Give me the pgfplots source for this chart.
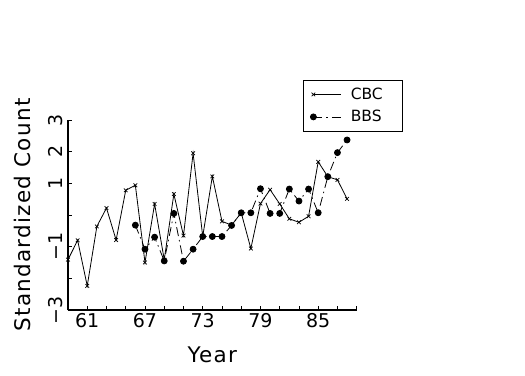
\documentclass[border=0pt]{standalone}
\usepackage{fontspec}
\setmainfont{DejaVu Sans}
\newfontfamily\widefont{DejaVu Sans}[LetterSpace=6]
\usepackage{pgfplots}
\pgfplotsset{compat=1.18}
\pgfplotstableread{
year val
59 -1.41
60 -0.80
61 -2.24
62 -0.36
63 0.22
64 -0.79
65 0.78
66 0.94
67 -1.50
68 0.35
69 -1.41
70 0.66
71 -0.65
72 1.95
73 -0.68
74 1.22
75 -0.20
76 -0.32
77 0.07
78 -1.06
79 0.36
80 0.80
81 0.35
82 -0.12
83 -0.23
84 -0.04
85 1.68
86 1.21
87 1.11
88 0.51
}\cbc
\pgfplotstableread{
year val
66 -0.32
67 -1.08
68 -0.70
69 -1.45
70 0.05
71 -1.46
72 -1.08
73 -0.68
74 -0.68
75 -0.68
76 -0.33
77 0.07
78 0.07
79 0.83
80 0.05
81 0.05
82 0.82
83 0.44
84 0.82
85 0.07
86 1.21
87 1.97
88 2.37
}\bbs
\begin{document}
\begin{tikzpicture}[x=1pt,y=1pt]
\useasboundingbox (0,0) rectangle (525,375);
\begin{axis}[
  at={(68pt,65pt)}, anchor=south west,
  scale only axis, width=288.7pt, height=190pt,
  xmin=59, xmax=89, ymin=-3, ymax=3,
  clip=false,
  axis lines=left,
  axis line style={-, line width=1.4pt},
  xtick={59,61,...,89},
  xticklabels={,61,,,67,,,73,,,79,,,85,,},
  ytick={-3,-2,...,3},
  yticklabels={−3,,−1,,1,2,3},
  tick align=inside, major tick length=4pt,
  tick style={line width=0.8pt, black},
  /pgf/number format/assume math mode=true,
  ticklabel style={font=\fontsize{19}{19}\selectfont},
  xticklabel style={anchor=north, inner sep=3pt},
  yticklabel style={rotate=90, anchor=south, inner sep=5pt},
  xlabel={Year},
  ylabel={Standardized Count},
  label style={font=\widefont\fontsize{21.5}{21.5}\selectfont},
  xlabel style={at={(axis description cs:0.5,-0.237)}, anchor=center},
  ylabel style={at={(axis description cs:-0.156,0.5)}, anchor=center, rotate=0},
  legend style={at={(0.814,1.2105)}, anchor=north west, draw=black, line width=0.8pt,
    font=\fontsize{15.5}{15.5}\selectfont, inner xsep=7pt, inner ysep=7.5pt,
    row sep=9.5pt, column sep=9pt, nodes={inner sep=0pt}},
  legend cell align=left,
  legend image code/.code={\draw[#1,mark=none] (0pt,0pt) -- (28pt,0pt); \draw[#1] plot coordinates {(0pt,0pt)};},
]
\addplot[black, line width=0.8pt, mark=x, mark size=2.6pt, mark options={solid, line width=0.7pt}] table[x=year,y=val]{\cbc};
\addlegendentry{CBC\kern13pt}
\addplot[black, line width=0.8pt, dash pattern=on 9pt off 4pt on 1.5pt off 4pt, mark=*, mark size=3pt, mark options={solid}] table[x=year,y=val]{\bbs};
\addlegendentry{BBS\kern13pt}
\end{axis}
\end{tikzpicture}
\end{document}
